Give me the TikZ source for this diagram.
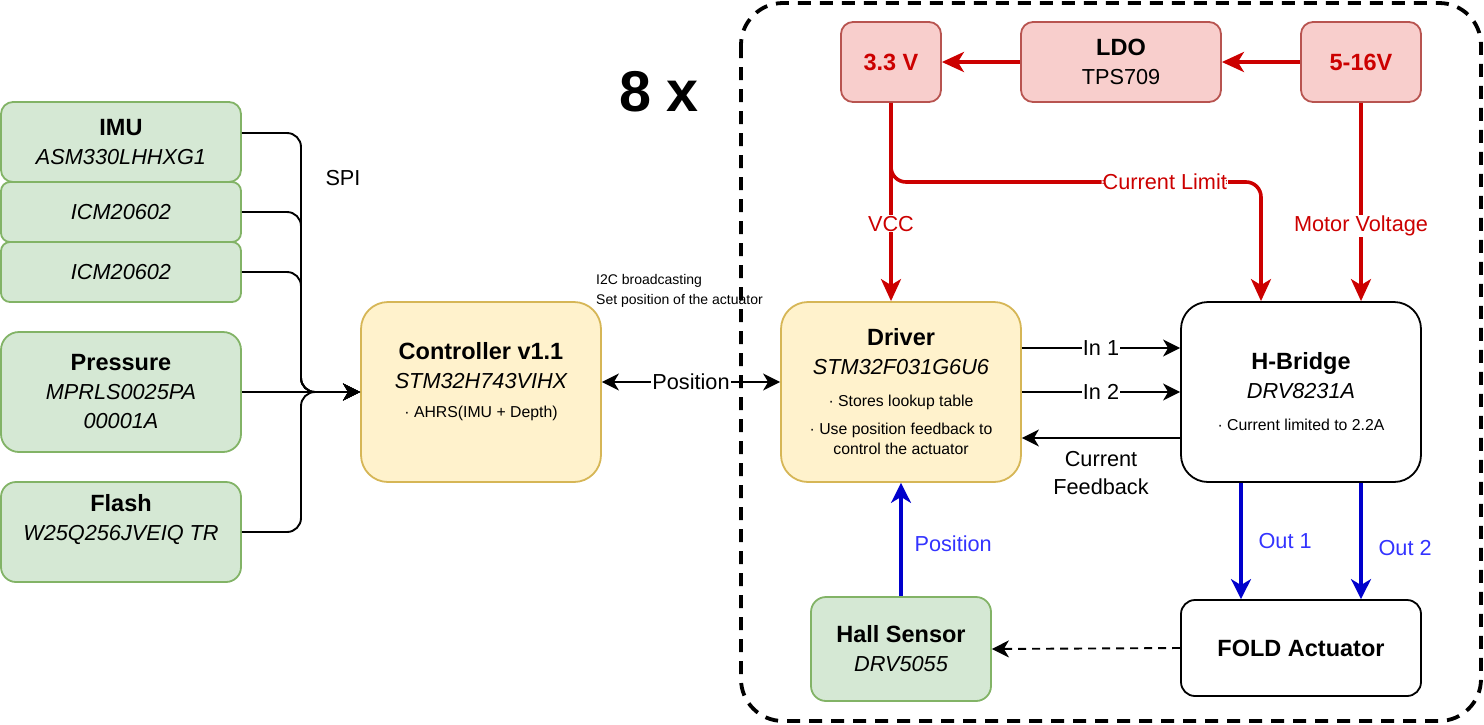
\documentclass[tikz,border=0pt]{standalone}
\usepackage{fontspec}
\setmainfont{Liberation Sans}
\usetikzlibrary{arrows.meta}
\definecolor{grnfill}{HTML}{D5E8D4}
\definecolor{grnline}{HTML}{82B366}
\definecolor{ylwfill}{HTML}{FFF2CC}
\definecolor{ylwline}{HTML}{D6B656}
\definecolor{redfill}{HTML}{F8CECC}
\definecolor{redline}{HTML}{B85450}
\definecolor{wirered}{HTML}{CC0000}
\definecolor{wireblue}{HTML}{0000CC}
\definecolor{txtblue}{HTML}{3333FF}
\newcommand{\boxtitle}{\fontsize{23.5}{29}\selectfont\bfseries}
\newcommand{\boxtext}{\fontsize{21.7}{29}\selectfont}
\newcommand{\boxnote}{\fontsize{15.8}{29}\selectfont}
\tikzset{
  box/.style={draw, line width=1.8pt, align=center, inner sep=0pt, font=\boxtext, rounded corners=#1},
  box/.default=12pt,
  grn/.style={box=#1, draw=grnline, fill=grnfill},
  grn/.default=12pt,
  ylw/.style={box=27pt, draw=ylwline, fill=ylwfill},
  rdb/.style={box=12pt, draw=redline, fill=redfill},
  wht/.style={box=#1, draw=black, fill=white},
  wht/.default=27pt,
  wire/.style={line width=1.9pt, >={Stealth[length=17pt,width=17pt,inset=5pt]}, ->},
  power/.style={color=wirered, line width=3.6pt, >={Stealth[length=22pt,width=20pt,inset=6pt]}, ->},
  sig/.style={color=wireblue, line width=3.2pt, >={Stealth[length=20pt,width=20pt,inset=6pt]}, ->},
  lbl/.style={fill=white, inner sep=1pt, font=\boxtext},
  sidelbl/.style={inner sep=0pt, font=\boxtext, text=txtblue}
}
\begin{document}
\begin{tikzpicture}[x=1pt,y=-1pt]
  \useasboundingbox (0,0) rectangle (1484,724);
  \draw[line width=3.8pt, dash pattern=on 13pt off 9pt, rounded corners=42pt] (741,3) rectangle (1481,721);
  \node[font=\fontsize{57.5}{60}\selectfont\bfseries] (mult) at (659,92) {8 x};

  \node[grn, minimum width=240pt, minimum height=80pt] (imu) at (121,142) {{\boxtitle IMU}\\{\itshape ASM330LHHXG1}};
  \node[grn=9pt, minimum width=240pt, minimum height=60pt] (icmA) at (121,212) {\itshape ICM20602};
  \node[grn=9pt, minimum width=240pt, minimum height=60pt] (icmB) at (121,272) {\itshape ICM20602};
  \node[grn=18pt, minimum width=240pt, minimum height=120pt] (pressure) at (121,392) {{\boxtitle Pressure}\\{\itshape MPRLS0025PA}\\{\itshape 00001A}};
  \node[grn=15pt, minimum width=240pt, minimum height=100pt] (flash) at (121,532) {{\boxtitle Flash}\\{\itshape W25Q256JVEIQ TR}\\\mbox{}};
  \node[font=\boxtext] (spi) at (343,178) {SPI};

  \node[ylw, minimum width=240pt, minimum height=180pt] (ctrl) at (481,392) {{\boxtitle Controller v1.1}\\{\itshape STM32H743VIHX}\\{\boxnote · AHRS(IMU + Depth)}\\[-5pt]\mbox{}};
  \node[ylw, minimum width=240pt, minimum height=180pt] (driver) at (901,392) {{\boxtitle Driver}\\{\itshape STM32F031G6U6}\\[3pt]{\boxnote · Stores lookup table}\\[-1pt]{\boxnote · Use position feedback to}\\[-9pt]{\boxnote control the actuator}};
  \node[wht, minimum width=240pt, minimum height=180pt] (hbridge) at (1301,392) {{\boxtitle H-Bridge}\\{\itshape DRV8231A}\\[3pt]{\boxnote · Current limited to 2.2A}};
  \node[wht=14pt, minimum width=240pt, minimum height=96pt] (fold) at (1301,648) {\boxtitle FOLD Actuator};
  \node[grn=15pt, minimum width=180pt, minimum height=104pt] (hall) at (901,649) {{\boxtitle Hall Sensor}\\{\itshape DRV5055}};
  \node[anchor=west, align=left, inner sep=0pt, font=\fontsize{14}{20}\selectfont] (i2c) at (596,291) {I2C broadcasting\\Set position of the actuator};

  \node[rdb, minimum width=100pt, minimum height=80pt, text=wirered] (vlogic) at (891,62) {\boxtitle 3.3 V};
  \node[rdb, minimum width=200pt, minimum height=80pt] (ldo) at (1121,62) {{\boxtitle LDO}\\TPS709};
  \node[rdb, minimum width=120pt, minimum height=80pt, text=wirered] (vmotor) at (1361,62) {\boxtitle 5-16V};

  \coordinate (bus) at (301,392);
  \draw[wire, rounded corners=14pt] ([yshift=9pt]imu.east) -| (bus) -- (ctrl.west);
  \draw[wire, rounded corners=14pt] (icmA.east) -| (bus) -- (ctrl.west);
  \draw[wire, rounded corners=14pt] (icmB.east) -| (bus) -- (ctrl.west);
  \draw[wire] (pressure.east) -- (ctrl.west);
  \draw[wire, rounded corners=14pt] (flash.east) -| (bus) -- (ctrl.west);

  \draw[wire, <->] ([yshift=10pt]ctrl.east) -- node[lbl]{Position} ([yshift=10pt]driver.west);
  \draw[wire] ([yshift=44pt]driver.east) -- node[lbl]{In 1} ([yshift=44pt]hbridge.west);
  \draw[wire] (driver.east) -- node[lbl]{In 2} (hbridge.west);
  \draw[wire] ([yshift=-46pt]hbridge.west) -- node[below=9pt, align=center, font=\fontsize{21.7}{28}\selectfont]{Current\\Feedback} ([yshift=-46pt]driver.east);
  \draw[wire, dash pattern=on 8pt off 6pt] (fold.west) -- (hall.east);

  \draw[sig] ([xshift=-60pt]hbridge.south) -- node[right=16pt, sidelbl]{Out 1} ([xshift=-60pt]fold.north);
  \draw[sig] ([xshift=60pt]hbridge.south) -- node[pos=0.56, right=16pt, sidelbl]{Out 2} ([xshift=60pt]fold.north);
  \draw[sig] (hall.north) -- node[pos=0.46, right=12pt, sidelbl]{Position} (driver.south);

  \draw[power] (vmotor.west) -- (ldo.east);
  \draw[power] (ldo.west) -- (vlogic.east);
  \draw[power] (vlogic.south) -- node[pos=0.61, lbl]{VCC} (vlogic.south |- driver.north);
  \coordinate (climit) at (1261,182);
  \draw[power, rounded corners=15pt] (vlogic.south) |- node[pos=0.87, lbl]{Current Limit} (climit) -- (climit |- hbridge.north);
  \draw[power] (vmotor.south) -- node[pos=0.62, lbl]{Motor Voltage} (vmotor.south |- hbridge.north);
\end{tikzpicture}
\end{document}
